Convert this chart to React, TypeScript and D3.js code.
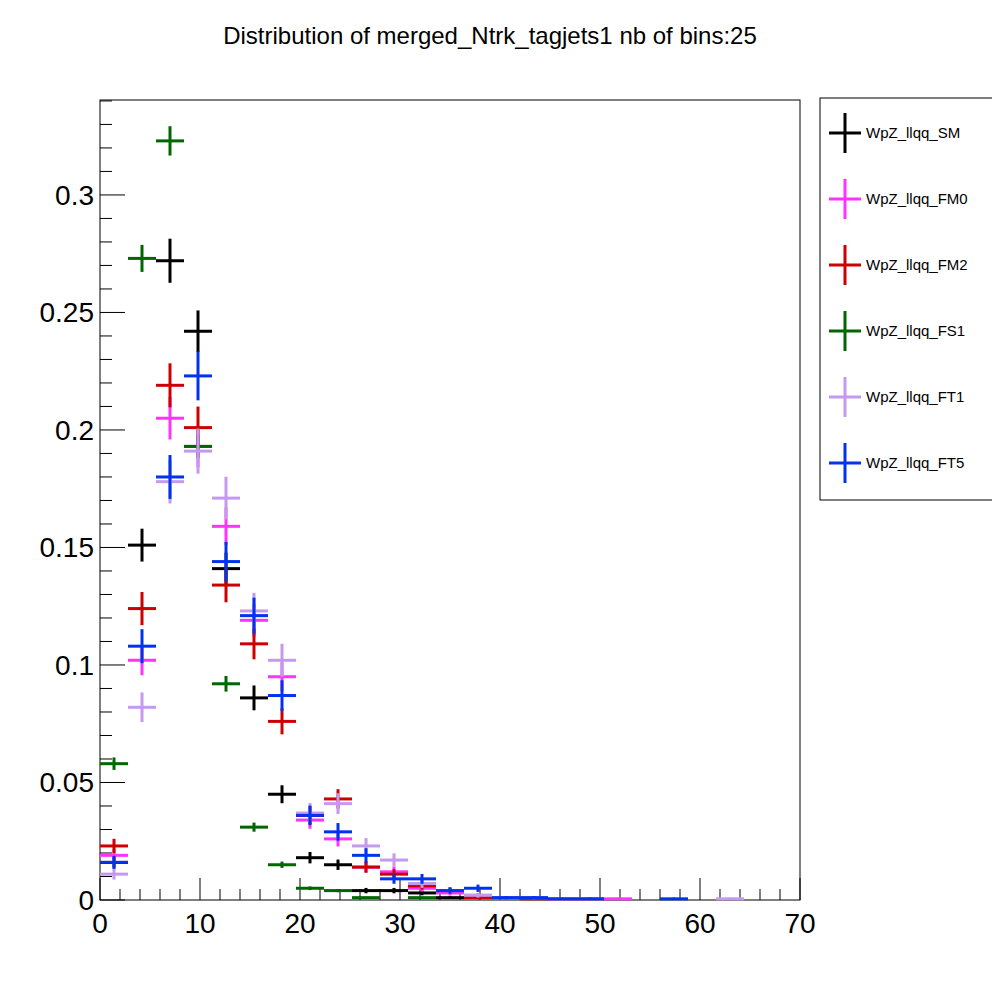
import { useEffect, useRef } from 'react';
import * as d3 from 'd3';

const nBins = 25;
const xMin = 0;
const xMax = 70;

const seriesNames = ['WpZ_llqq_SM', 'WpZ_llqq_FM0', 'WpZ_llqq_FM2', 'WpZ_llqq_FS1', 'WpZ_llqq_FT1', 'WpZ_llqq_FT5'];
const seriesColors = ['#000000', '#ff33ff', '#cc0000', '#006600', '#c499ee', '#0033ee'];
const errScale = [0.018, 0.02, 0.02, 0.011, 0.022, 0.022];

const smValues = [0.016, 0.151, 0.272, 0.242, 0.141, 0.086, 0.045, 0.018, 0.015, 0.004, 0.004, 0.003, 0.001, 0, 0, 0, 0, 0, 0, 0, 0, 0, 0, 0, 0];
const fm0Values = [0.019, 0.102, 0.205, 0.193, 0.159, 0.119, 0.095, 0.034, 0.026, 0.014, 0.012, 0.005, 0.003, 0.002, 0.001, 0.001, 0.0005, 0.0005, 0.0005, 0, 0, 0, 0, 0, 0];
const fm2Values = [0.023, 0.124, 0.219, 0.201, 0.134, 0.109, 0.076, 0.036, 0.043, 0.014, 0.011, 0.006, 0.004, 0.001, 0.001, 0.0005, 0, 0, 0, 0, 0, 0, 0, 0, 0];
const fs1Values = [0.058, 0.273, 0.323, 0.193, 0.092, 0.031, 0.015, 0.005, 0.004, 0.001, 0, 0.001, 0, 0, 0, 0, 0, 0, 0, 0, 0, 0, 0, 0, 0];
const ft1Values = [0.011, 0.082, 0.178, 0.191, 0.171, 0.123, 0.102, 0.037, 0.041, 0.023, 0.017, 0.007, 0.004, 0.002, 0.001, 0.001, 0, 0, 0, 0, 0, 0, 0.0005, 0, 0];
const ft5Values = [0.016, 0.108, 0.180, 0.223, 0.144, 0.121, 0.087, 0.036, 0.029, 0.019, 0.009, 0.009, 0.004, 0.005, 0.001, 0.001, 0.0005, 0.0005, 0, 0, 0.0005, 0, 0, 0, 0];

const allValues = [smValues, fm0Values, fm2Values, fs1Values, ft1Values, ft5Values];

const xTicks = [0, 10, 20, 30, 40, 50, 60, 70];
const yTicks = [0, 0.05, 0.1, 0.15, 0.2, 0.25, 0.3];

export default function App() {
  const svgRef = useRef<SVGSVGElement>(null);

  useEffect(() => {
    if (!svgRef.current) return;
    const svg = d3.select(svgRef.current);
    svg.selectAll('*').remove();

    const left = 100, right = 800, top = 100, bottom = 900;
    const x = d3.scaleLinear().domain([xMin, xMax]).range([left, right]);
    const y = d3.scaleLinear().domain([0, 0.3404]).range([bottom, top]);
    const bw = (xMax - xMin) / nBins;
    const font = 'Liberation Sans, Arial, sans-serif';

    svg.append('rect').attr('width', 1000).attr('height', 1000).attr('fill', '#fff');

    // title
    svg.append('text').attr('x', 490).attr('y', 44).attr('text-anchor', 'middle')
      .attr('font-family', font).attr('font-size', 24)
      .text('Distribution of merged_Ntrk_tagjets1 nb of bins:25');

    // frame
    svg.append('rect').attr('x', left).attr('y', top).attr('width', right - left).attr('height', bottom - top)
      .attr('fill', 'none').attr('stroke', '#000').attr('stroke-width', 1);

    // x ticks
    for (let v = 0; v <= 70 + 1e-9; v += 2) {
      const major = Math.abs(v % 10) < 1e-9;
      svg.append('line').attr('x1', x(v)).attr('x2', x(v)).attr('y1', bottom).attr('y2', bottom - (major ? 22 : 11))
        .attr('stroke', '#000');
    }
    xTicks.forEach(v => {
      svg.append('text').attr('x', x(v)).attr('y', bottom + 33).attr('text-anchor', 'middle')
        .attr('font-family', font).attr('font-size', 28).text(String(v));
    });

    // y ticks
    for (let i = 0; i <= 34; i++) {
      const v = i * 0.01;
      const major = i % 5 === 0;
      svg.append('line').attr('x1', left).attr('x2', left + (major ? 25 : 12)).attr('y1', y(v)).attr('y2', y(v))
        .attr('stroke', '#000');
    }
    yTicks.forEach(v => {
      svg.append('text').attr('x', left - 6).attr('y', y(v) + 10).attr('text-anchor', 'end')
        .attr('font-family', font).attr('font-size', 28).text(d3.format('~g')(v));
    });

    // data
    const g = svg.append('g');
    allValues.forEach((vals, si) => {
      vals.forEach((v, k) => {
        if (v <= 0) return;
        const cx = xMin + (k + 0.5) * bw;
        const err = errScale[si] * Math.sqrt(v);
        g.append('line').attr('x1', x(cx - bw / 2)).attr('x2', x(cx + bw / 2)).attr('y1', y(v)).attr('y2', y(v))
          .attr('stroke', seriesColors[si]).attr('stroke-width', 3);
        g.append('line').attr('x1', x(cx)).attr('x2', x(cx)).attr('y1', y(Math.max(0, v - err))).attr('y2', y(v + err))
          .attr('stroke', seriesColors[si]).attr('stroke-width', 3);
      });
    });

    // legend
    svg.append('rect').attr('x', 820).attr('y', 98).attr('width', 179).attr('height', 402)
      .attr('fill', '#fff').attr('stroke', '#000');
    seriesNames.forEach((name, i) => {
      const cy = 133 + i * 66;
      svg.append('line').attr('x1', 829).attr('x2', 861).attr('y1', cy).attr('y2', cy)
        .attr('stroke', seriesColors[i]).attr('stroke-width', 3);
      svg.append('line').attr('x1', 845).attr('x2', 845).attr('y1', cy - 20).attr('y2', cy + 20)
        .attr('stroke', seriesColors[i]).attr('stroke-width', 3);
      svg.append('text').attr('x', 866).attr('y', cy + 5).attr('font-family', font).attr('font-size', 15)
        .text(name);
    });
  }, []);

  return <svg ref={svgRef} width={1000} height={1000} style={{ display: 'block', margin: -8 }} />;
}
